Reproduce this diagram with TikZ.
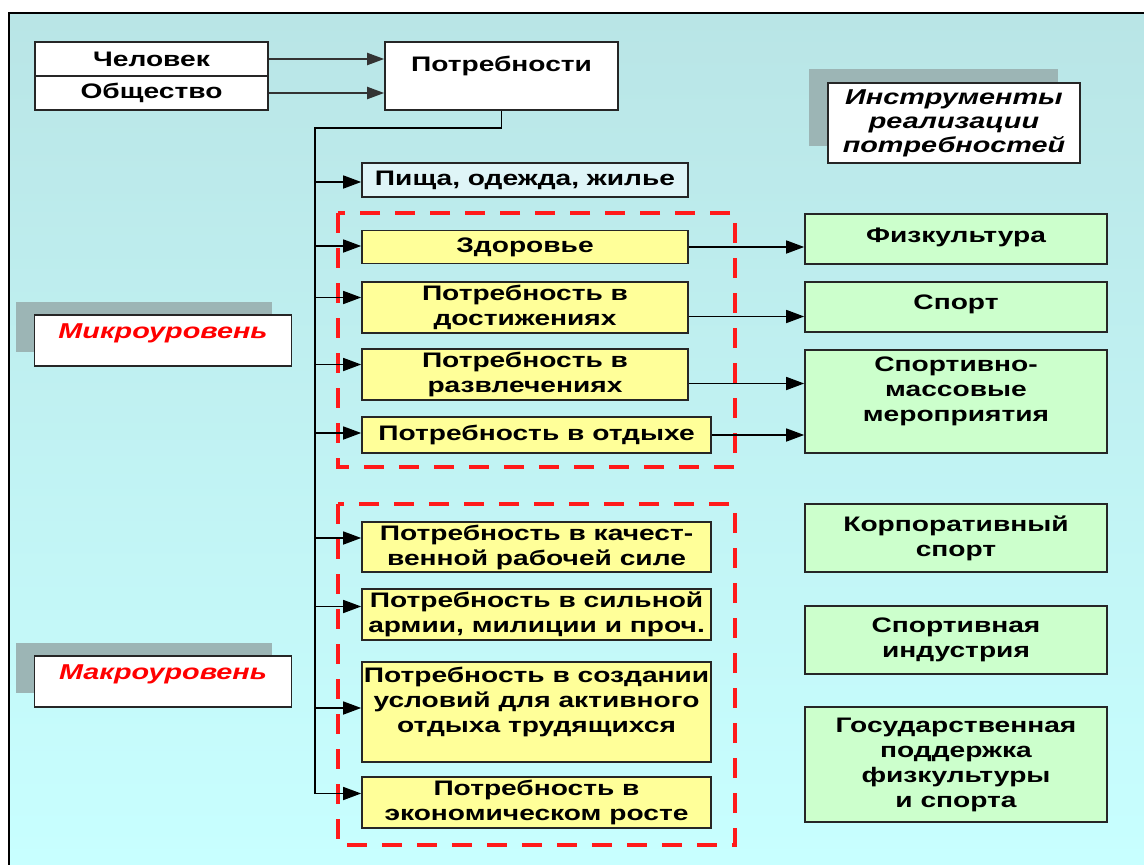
\documentclass[tikz,border=0pt]{standalone}
\usepackage{fontspec}
\setmainfont{Liberation Sans}[FakeStretch=1.34]
\usetikzlibrary{arrows.meta}

\definecolor{bgtop}{HTML}{B9E5E6}
\definecolor{bgbot}{HTML}{C8FFFF}
\definecolor{needyellow}{HTML}{FFFF99}
\definecolor{toolgreen}{HTML}{CCFFCC}
\definecolor{foodblue}{HTML}{DFF5F7}
\definecolor{shadowgray}{HTML}{9CB5B5}
\definecolor{dashred}{HTML}{FF1A1A}

\begin{document}
\begin{tikzpicture}[x=1pt, y=-1pt, font=\fontsize{21}{25}\selectfont\bfseries,
  box/.style={draw=black!85, line width=1.6pt, inner sep=0pt, align=center},
  needbox/.style={box, fill=needyellow},
  toolbox/.style={box, fill=toolgreen, minimum width=302pt},
  tagbox/.style={box, fill=white, font=\fontsize{21.5}{24}\selectfont\bfseries\itshape},
  lift/.style={text height=15pt, text depth=#1},
  feed/.style={draw=black!80, line width=2pt, -{Triangle[length=17pt,width=12pt]}},
  branch/.style={line width=1.5pt, -{Triangle[length=18pt,width=13pt]}},
  redframe/.style={draw=dashred, line width=3.5pt, dash pattern=on 20pt off 15pt}]
\useasboundingbox (0,0) rectangle (1144,865);
\shade[top color=bgtop, bottom color=bgbot] (9,13) rectangle (1144,865);
\draw[line width=2.5pt] (9,865) -- (9,13) -- (1144,13);

% source and needs
\node[box, fill=white, minimum width=233pt, minimum height=34pt] (man) at (151.5,59) {Человек};
\node[box, fill=white, minimum width=233pt, minimum height=34pt] (society) at (151.5,93) {Общество};
\node[box, fill=white, minimum width=233pt, minimum height=68pt] (needs) at (501.5,76) {Потребности\\ \mbox{}};
\draw[feed] (man.east) -- (man.east -| needs.west);
\draw[feed] (society.east) -- (society.east -| needs.west);

% level tags
\fill[shadowgray] (809,69) rectangle (1058,146);
\node[tagbox, minimum width=252pt, minimum height=80pt] (tools) at (954,123) {Инструменты\\реализации\\потребностей};
\fill[shadowgray] (16,302) rectangle (272,352);
\node[tagbox, lift=20pt, text=red, minimum width=257pt, minimum height=51pt] (micro) at (163,340.5) {Микроуровень};
\fill[shadowgray] (16,643) rectangle (272,693);
\node[tagbox, lift=20pt, text=red, minimum width=257pt, minimum height=51pt] (macro) at (163,681.5) {Макроуровень};

% needs
\node[box, fill=foodblue, minimum width=326pt, minimum height=34pt] (food) at (525,180) {Пища, одежда, жилье};
\node[needbox, minimum width=326pt, minimum height=33pt] (health) at (525,247) {Здоровье};
\node[needbox, minimum width=326pt, minimum height=51pt] (achieve) at (525,307.5) {Потребность в\\достижениях};
\node[needbox, minimum width=326pt, minimum height=51pt] (fun) at (525,374.5) {Потребность в\\развлечениях};
\node[needbox, minimum width=349pt, minimum height=36pt] (rest) at (536.5,435) {Потребность в отдыхе};
\node[needbox, minimum width=349pt, minimum height=50pt] (labour) at (536.5,547) {Потребность в качест-\\венной рабочей силе};
\node[needbox, minimum width=349pt, minimum height=51pt] (army) at (536.5,614.5) {Потребность в сильной\\армии, милиции и проч.};
\node[needbox, minimum width=349pt, minimum height=100pt] (leisure) at (536.5,712) {Потребность в создании\\условий для активного\\отдыха трудящихся\\ \mbox{}};
\node[needbox, minimum width=349pt, minimum height=51pt] (growth) at (536.5,802.5) {Потребность в\\экономическом росте};
\draw[redframe] (338,213) rectangle (735,467);
\draw[redframe] (338,504) rectangle (735,845);

% tools
\node[toolbox, lift=8pt, minimum height=50pt] (fitness) at (956,239) {Физкультура};
\node[toolbox, lift=10pt, minimum height=50pt] (sport) at (956,307) {Спорт};
\node[toolbox, minimum height=103pt] (mass) at (956,401.5) {Спортивно-\\массовые\\мероприятия\\ \mbox{}};
\node[toolbox, minimum height=68pt] (corp) at (956,538) {Корпоративный\\спорт};
\node[toolbox, minimum height=68pt] (industry) at (956,640) {Спортивная\\индустрия};
\node[toolbox, minimum height=115pt] (state) at (956,764.5) {Государственная\\поддержка\\физкультуры\\и спорта};

% trunk and branches
\coordinate (trunktop) at (315,128);
\coordinate (trunkend) at (315,793.5);
\draw[line width=1.5pt] (needs.south) |- (trunktop) -- (trunkend);
\foreach \b/\s in {food/-2,health/1,achieve/10,fun/10,rest/2,labour/9,army/8,leisure/4,growth/9}
  \draw[branch] ([yshift=\s pt]\b.west -| trunktop) -- ([yshift=\s pt]\b.west);

% needs to tools
\draw[branch] (health.east) -- (health.east -| fitness.west);
\draw[branch] ([yshift=-9pt]achieve.east) -- ([yshift=-9pt]achieve.east -| sport.west);
\draw[branch] ([yshift=-9pt]fun.east) -- ([yshift=-9pt]fun.east -| mass.west);
\draw[branch] (rest.east) -- (rest.east -| mass.west);
\end{tikzpicture}
\end{document}
